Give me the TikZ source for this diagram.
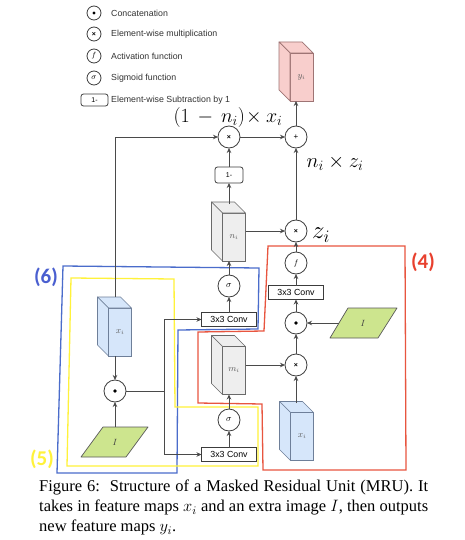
\RequirePackage{fix-cm}
\documentclass[tikz,border=0pt]{standalone}
\usepackage{fontspec}
\setmainfont{Liberation Serif}
\newfontfamily\sansf{Liberation Sans}
\newfontfamily\calib{Carlito}
\usetikzlibrary{arrows.meta,calc}
\definecolor{lineC}{HTML}{4A4A4A}
\definecolor{opC}{HTML}{3C3C3C}
\definecolor{pinkF}{HTML}{F8CECC}
\definecolor{pinkD}{HTML}{9E7474}
\definecolor{grayF}{HTML}{EEEEEE}
\definecolor{grayD}{HTML}{6A6A6A}
\definecolor{blueF}{HTML}{D6E6FA}
\definecolor{blueD}{HTML}{6E7F99}
\definecolor{greenF}{HTML}{CDE58E}
\definecolor{greenD}{HTML}{5A5A5A}
\definecolor{regBlue}{HTML}{4A6CCB}
\definecolor{regYellow}{HTML}{FFF23A}
\definecolor{regRed}{HTML}{E8553F}
\definecolor{labBlue}{HTML}{4A5FD0}
\definecolor{labRed}{HTML}{E8402E}
\newcommand\cubefaces[3]{%
  \filldraw[fill=#2,draw=#3,line width=0.7pt,line join=round]
    (#1.north west) -- ++(-11,-11) -- ($(#1.north east)+(-11,-11)$) -- (#1.north east) -- cycle;
  \filldraw[fill=#2,draw=#3,line width=0.7pt,line join=round]
    (#1.north west) -- ++(-11,-11) -- ($(#1.south west)+(-11,-11)$) -- (#1.south west) -- cycle;
}
\tikzset{
  ln/.style={draw=lineC, line width=0.8pt},
  arr/.style={ln, -{Stealth[length=5pt,width=4.5pt]}},
  op/.style={circle, draw=opC, fill=white, line width=0.8pt, minimum size=22pt, inner sep=0pt, outer sep=0pt},
  lop/.style={op, minimum size=14pt},
  convbox/.style={rectangle, draw=opC, fill=white, line width=0.8pt, minimum width=55pt, minimum height=14pt, inner sep=0pt, outer sep=0pt, font=\sansf\fontsize{8.8}{9}\selectfont},
  onebox/.style={rectangle, rounded corners=2.5pt, draw=opC, fill=white, line width=0.8pt, minimum width=28pt, minimum height=16pt, inner sep=0pt, outer sep=0pt, font=\sansf\fontsize{7}{7}\selectfont},
  face/.style={rectangle, line width=0.7pt, minimum width=23pt, minimum height=48pt, inner sep=0pt, outer sep=0pt, text=black!65, font=\fontsize{9}{9}\selectfont},
  legtext/.style={anchor=west, inner sep=0pt, text=black!80, font=\sansf\fontsize{8.8}{9}\selectfont},
  mathlab/.style={inner sep=0pt},
  region/.style={line width=1.3pt, line join=miter},
  reglab/.style={inner sep=0pt, font=\calib\bfseries\fontsize{21}{21}\selectfont},
  para/.style={fill=greenF, draw=greenD, line width=0.7pt, line join=round},
}
\newcommand\xsym{{\sansf\bfseries\fontsize{7}{7}\selectfont ×}}
\begin{document}
\begin{tikzpicture}[x=1pt,y=-1pt]
\useasboundingbox (0,0) rectangle (465,540);
\fill[white] (0,0) rectangle (465,540);

% ---------- legend ----------
\node[lop] (lg1) at (94,13) {};
\fill[black] (lg1) circle (1.6);
\node[legtext] (lt1) at (111,13) {Concatenation};
\node[lop] (lg2) at (94,34) {\xsym};
\node[legtext] (lt2) at (111,34) {Element-wise multiplication};
\node[lop] (lg3) at (94,56) {\fontsize{7.5}{8}\selectfont$f$};
\node[legtext] (lt3) at (111,56) {Activation function};
\node[lop] (lg4) at (94,78) {\fontsize{8}{8}\selectfont$\sigma$};
\node[legtext] (lt4) at (111,78) {Sigmoid function};
\node[onebox, minimum width=27pt, minimum height=12pt] (lg5) at (94.5,100) {1-};
\node[legtext] (lt5) at (111,100) {Element-wise Subtraction by 1};

% ---------- regions ----------
\draw[region, draw=regBlue] (63,266) -- (259,268) -- (258,329) -- (178,330) -- (177,473) -- (57,473) -- cycle;
\draw[region, draw=regYellow] (71,278) -- (174,279) -- (175,407) -- (258,407) -- (258,466) -- (67,466) -- cycle;
\draw[region, draw=regRed] (268,246) -- (405,246) -- (406,470) -- (263,470) -- (262,404) -- (198,403) -- (198,332) -- (264,331) -- cycle;
\node[reglab, text=labBlue] (l6) at (46,277) {(6)};
\node[reglab, text=regYellow] (l5) at (42,459) {(5)};
\node[reglab, text=labRed] (l4) at (423,262) {(4)};

% ---------- cuboids ----------
\node[face, fill=pinkF, draw=pinkD] (yi) at (301.5,77) {$y_i$};
\cubefaces{yi}{pinkF}{pinkD}
\node[face, fill=grayF, draw=grayD] (ni) at (234,237) {$n_i$};
\cubefaces{ni}{grayF}{grayD}
\node[face, fill=grayF, draw=grayD] (mi) at (234,370.5) {$m_i$};
\cubefaces{mi}{grayF}{grayD}
\node[face, fill=blueF, draw=blueD] (xir) at (302,436.5) {$x_i$};
\cubefaces{xir}{blueF}{blueD}
\node[face, fill=blueF, draw=blueD] (xil) at (120,332) {$x_i$};
\cubefaces{xil}{blueF}{blueD}

% ---------- parallelograms ----------
\coordinate (Ir) at (363,323);
\draw[para] ($(Ir)+(-33,15)$) -- ($(Ir)+(15,15)$) -- ($(Ir)+(34,-15)$) -- ($(Ir)+(-15,-15)$) -- cycle;
\node[inner sep=0pt, text=black!75, font=\fontsize{9}{9}\selectfont] (IrT) at (Ir) {$I$};
\coordinate (Il) at (115,442);
\draw[para] ($(Il)+(-34,15)$) -- ($(Il)+(11,15)$) -- ($(Il)+(33,-15)$) -- ($(Il)+(-12,-15)$) -- cycle;
\node[inner sep=0pt, text=black!75, font=\fontsize{9}{9}\selectfont] (IlT) at (Il) {$I$};

% ---------- operators ----------
\node[op] (mulT) at (229,137) {\xsym};
\node[op] (plus) at (296,137) {\sansf\fontsize{8}{8}\selectfont +};
\node[onebox] (one) at (229,175) {1-};
\node[op] (mulM) at (296,231) {\xsym};
\node[op] (fAct) at (296,263) {\fontsize{8}{8}\selectfont$f$};
\node[convbox] (convR) at (296,292.5) {3x3 Conv};
\node[op] (catR) at (296,323) {};
\fill[black] (catR) circle (1.8);
\node[op] (mulB) at (296,365) {\xsym};
\node[op] (sig1) at (229,286) {\fontsize{9}{9}\selectfont$\sigma$};
\node[convbox] (conv1) at (229,319.5) {3x3 Conv};
\node[op] (sig2) at (229,420) {\fontsize{9}{9}\selectfont$\sigma$};
\node[convbox] (conv2) at (229,454.5) {3x3 Conv};
\node[op] (catL) at (115,391) {};
\fill[black] (catL) circle (1.8);

% ---------- connectors ----------
\coordinate (xiltop) at (115,297);
\coordinate (nitop) at (229,204);
\coordinate (xirtop) at (296,403);
\coordinate (split) at (164,391);
\draw[arr] (xiltop) |- (mulT);
\draw[arr] (mulT) -- (plus);
\draw[arr] (plus) -- (plus |- yi.south);
\draw[arr] (one) -- (mulT);
\draw[arr] (nitop) -- (one);
\draw[arr] (ni.east |- mulM) -- (mulM);
\draw[arr] (mulM) -- (plus);
\draw[arr] (fAct) -- (mulM);
\draw[arr] (convR) -- (fAct);
\draw[arr] (catR) -- (convR);
\draw[arr] ($(Ir)+(-24,0)$) -- (catR);
\draw[arr] (mulB) -- (catR);
\draw[arr] (mi.east |- mulB) -- (mulB);
\draw[arr] (xirtop) -- (mulB);
\draw[arr] (sig1) -- (sig1 |- ni.south);
\draw[arr] (conv1) -- (sig1);
\draw[arr] (sig2) -- (sig2 |- mi.south);
\draw[arr] (conv2) -- (sig2);
\draw[arr] (catL |- xil.south) -- (catL);
\draw[arr] ($(Il)+(0,-15)$) -- (catL);
\draw[ln] (catL) -- (split);
\draw[arr] (split) |- (conv1);
\draw[arr] (split) |- (conv2);

% ---------- math labels ----------
\node[mathlab, font=\fontsize{20}{20}\selectfont] (labA) at (228,118) {$(1\,-\,n_i)\!\times x_i$};
\node[mathlab, font=\fontsize{20.5}{20.5}\selectfont] (labB) at (335,163) {$n_i\times z_i$};
\node[mathlab, font=\fontsize{25}{25}\selectfont] (labC) at (321,235) {$z_i$};

% ---------- caption ----------
\node[anchor=north west, text width=389pt, align=justify, inner sep=0pt,
      font=\fontsize{16.5}{20}\selectfont] (cap) at (39,480)
  {Figure 6:\ \ Structure of a Masked Residual Unit (MRU). It\linebreak
   takes in feature maps $x_i$ and an extra image $I$, then outputs\linebreak
   new feature maps $y_i$.};
\end{tikzpicture}
\end{document}
